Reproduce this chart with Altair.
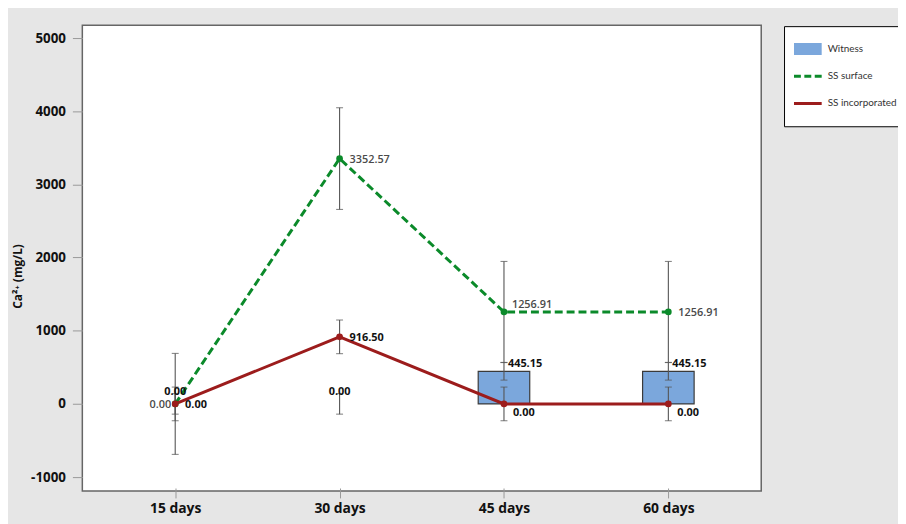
import altair as alt
import pandas as pd

# ---- data ----
days = ["15 days", "30 days", "45 days", "60 days"]
series_names = ["Witness", "SS surface", "SS incorporated"]

witness = [0.0, 0.0, 445.15, 445.15]
witness_sd = [140, 140, 120, 120]
surface = [0.0, 3352.57, 1256.91, 1256.91]
surface_sd = [690, 695, 690, 690]
incorporated = [0.0, 916.50, 0.0, 0.0]
incorporated_sd = [230, 230, 230, 230]

y_ticks = [-1000, 0, 1000, 2000, 3000, 4000, 5000]

# ---- styling ----
BLUE = "#7ba7dc"
GREEN = "#0b8a2a"
RED = "#9c1c1c"
ERR = "#555555"
FONT = "Open Sans"

rows = []
for name, vals, sds in [("Witness", witness, witness_sd),
                        ("SS surface", surface, surface_sd),
                        ("SS incorporated", incorporated, incorporated_sd)]:
    for d, v, s in zip(days, vals, sds):
        rows.append({"series": name, "day": d, "value": v, "lo": v - s, "hi": v + s})
df = pd.DataFrame(rows)

xenc = alt.X("day:N", sort=days,
             scale=alt.Scale(type="point", domain=days, padding=0.565),
             axis=alt.Axis(title=None, domain=False, grid=False, labelAngle=0,
                           tickColor="#999999", tickSize=10, tickWidth=1, offset=-3,
                           labelPadding=4, labelFont=FONT, labelFontSize=14,
                           labelFontWeight="bold", labelColor="#111111"))
yscale = alt.Scale(domain=[-1190, 5176], nice=False, zero=False)
yaxis = alt.Axis(values=y_ticks, grid=False, domain=False, tickColor="#999999",
                 tickSize=10, tickWidth=1, labelPadding=7, labelFont=FONT,
                 labelFontSize=13.5, labelFontWeight="bold", labelColor="#111111",
                 labelExpr="datum.value < 0 ? '-' + abs(datum.value) : '' + datum.value",
                 title="Ca²⁺ (mg/L)", titleFont=FONT + ", DejaVu Sans",
                 titleFontSize=12, titleFontWeight="bold", titleColor="#111111",
                 titleX=-65, titleY=253, titleAngle=-90, titleAlign="center",
                 titleBaseline="middle")
yenc = alt.Y("value:Q", scale=yscale, axis=yaxis)

base = alt.Chart(df)

bars = base.transform_filter(
    "datum.series == 'Witness' && datum.value > 0"
).mark_bar(size=52, fill=BLUE, stroke="#3a3a3a", strokeWidth=1.2).encode(x=xenc, y=yenc)

err_rule = base.mark_rule(color=ERR, strokeWidth=1.1).encode(
    x=xenc, y=alt.Y("lo:Q", scale=yscale), y2="hi:Q")
cap_lo = base.mark_tick(color=ERR, size=7, thickness=1.1).encode(
    x=xenc, y=alt.Y("lo:Q", scale=yscale))
cap_hi = base.mark_tick(color=ERR, size=7, thickness=1.1).encode(
    x=xenc, y=alt.Y("hi:Q", scale=yscale))

line_surface = base.transform_filter("datum.series == 'SS surface'").mark_line(
    color=GREEN, strokeWidth=3, strokeDash=[8, 4]).encode(x=xenc, y=yenc)
line_incorp = base.transform_filter("datum.series == 'SS incorporated'").mark_line(
    color=RED, strokeWidth=3).encode(x=xenc, y=yenc)
pts_surface = base.transform_filter("datum.series == 'SS surface'").mark_point(
    filled=True, color=GREEN, size=45, opacity=1).encode(x=xenc, y=yenc)
pts_incorp = base.transform_filter("datum.series == 'SS incorporated'").mark_point(
    filled=True, color=RED, size=45, opacity=1).encode(x=xenc, y=yenc)


def labels(flt, align, dx, dy, color, weight):
    return base.transform_filter(flt).mark_text(
        align=align, baseline="middle", dx=dx, dy=dy, color=color,
        font=FONT, fontSize=11, fontWeight=weight
    ).encode(x=xenc, y=yenc, text=alt.Text("value:Q", format=".2f"))


GREY_TXT = "#4a4a4a"
lab = [
    labels("datum.series == 'SS surface' && datum.day == '15 days'", "right", -4, 1, GREY_TXT, 600),
    labels("datum.series == 'SS surface' && (datum.day == '30 days' || datum.day == '60 days')", "left", 10, 1, GREY_TXT, 600),
    labels("datum.series == 'SS surface' && datum.day == '45 days'", "left", 8, -7, GREY_TXT, 600),
    labels("datum.series == 'SS incorporated' && (datum.day == '15 days' || datum.day == '30 days')", "left", 10, 1, "#111111", "bold"),
    labels("datum.series == 'SS incorporated' && (datum.day == '45 days' || datum.day == '60 days')", "left", 9, 9, "#111111", "bold"),
    labels("datum.series == 'Witness' && datum.value == 0", "center", 0, -12, "#111111", "bold"),
    labels("datum.series == 'Witness' && datum.value > 0", "left", 4, -7, "#111111", "bold"),
]

# legend built from the series list through color + shape scales
path_rect = "M-1,-0.43H1V0.43H-1Z"
path_dash = "M-1,-0.11H-0.5V0.11H-1Z M-0.25,-0.11H0.25V0.11H-0.25Z M0.5,-0.11H1V0.11H0.5Z"
path_line = "M-1,-0.11H1V0.11H-1Z"
leg = alt.Legend(title=None, orient="none", legendX=708, legendY=1, direction="vertical",
                 fillColor="white", strokeColor="#000000", padding=10, cornerRadius=0,
                 symbolSize=784, symbolStrokeWidth=0, symbolOpacity=1,
                 clipHeight=26, rowPadding=1.5,
                 labelOffset=6, labelFont="Lato", labelFontSize=10, labelColor="#333333")
legend_layer = alt.Chart(pd.DataFrame({"series": series_names})).mark_point(
    filled=True, opacity=0).encode(
    color=alt.Color("series:N", scale=alt.Scale(domain=series_names, range=[BLUE, GREEN, RED]), legend=leg),
    shape=alt.Shape("series:N", scale=alt.Scale(domain=series_names, range=[path_rect, path_dash, path_line]), legend=leg),
)

chart = alt.layer(
    bars, err_rule, cap_lo, cap_hi, line_surface, line_incorp, pts_surface, pts_incorp,
    *lab, legend_layer
).properties(
    width=685, height=470,
    padding={"left": 75, "top": 15, "right": 138, "bottom": 31},
    autosize=alt.AutoSizeParams(type="none"),
    background="#e6e6e6",
    view=alt.ViewBackground(fill="white", stroke="#666666", strokeWidth=1.5),
).configure_view(fill="white", stroke="#666666", strokeWidth=1.5)

chart.save("out.html", embed_options={"renderer": "svg", "actions": False})
